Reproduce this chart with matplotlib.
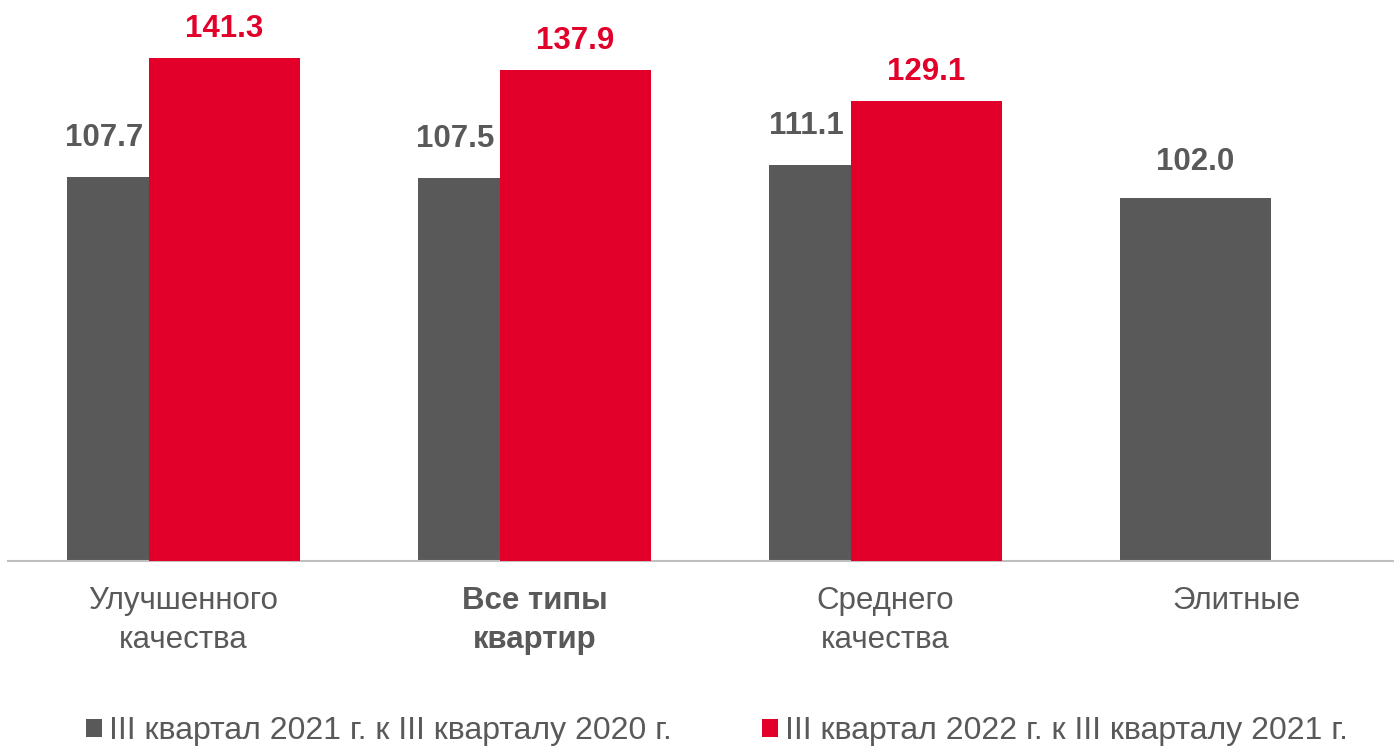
import numpy as np
import matplotlib
matplotlib.use('Agg')
import matplotlib.pyplot as plt
from matplotlib.patches import Patch

# Data
categories = ["Улучшенного\nкачества", "Все типы\nквартир", "Среднего\nкачества", "Элитные"]
values_2021 = [107.7, 107.5, 111.1, 102.0]
values_2022 = [141.3, 137.9, 129.1, None]
series_labels = ["III квартал 2021 г. к III кварталу 2020 г.",
                 "III квартал 2022 г. к III кварталу 2021 г."]

GRAY = "#595959"
RED = "#E2002A"

plt.rcParams['font.family'] = ['Liberation Sans', 'DejaVu Sans']

fig = plt.figure(figsize=(13.94, 7.46), dpi=100)
W, H = 1394, 746
# axes: left edge at 8px, baseline at 560.5px from top, top at figure top
ax = fig.add_axes([8 / W, (H - 560.5) / H, 1404 / W, 560.5 / H])

x = np.arange(len(categories))
width = 0.431
shift = 0.117

for i in range(len(categories)):
    g = values_2021[i]
    r = values_2022[i]
    ax.bar(x[i] - shift, g, width, color=GRAY, zorder=2)
    if r is not None:
        ax.bar(x[i] + shift, r, width, color=RED, zorder=3)
        # gray label centred on the visible part of the gray bar
        gx = ((x[i] - shift - width / 2) + (x[i] + shift - width / 2)) / 2 - 0.01
        ax.annotate(f"{g:.1f}", (gx, g), xytext=(0, 39), textcoords='offset pixels',
                    ha='center', va='center', fontsize=22.5, fontweight='bold', color=GRAY)
        ax.annotate(f"{r:.1f}", (x[i] + shift, r), xytext=(0, 29), textcoords='offset pixels',
                    ha='center', va='center', fontsize=22.5, fontweight='bold', color=RED)
    else:
        ax.annotate(f"{g:.1f}", (x[i] - shift, g), xytext=(0, 36), textcoords='offset pixels',
                    ha='center', va='center', fontsize=22.5, fontweight='bold', color=GRAY)

ax.set_xlim(-0.5, 3.5)
ax.set_ylim(0, 157.5)

for s in ['top', 'right', 'left']:
    ax.spines[s].set_visible(False)
ax.spines['bottom'].set_color('#BFBFBF')
ax.spines['bottom'].set_linewidth(1.5)
ax.set_yticks([])
ax.set_xticks(x)
ax.set_xticklabels(categories, fontsize=22.5, color=GRAY, linespacing=1.37)
ax.tick_params(axis='x', length=0, pad=18.5)
ax.get_xticklabels()[1].set_fontweight('bold')

handles = [Patch(facecolor=GRAY), Patch(facecolor=RED)]
fig.legend(handles, series_labels, loc='center', bbox_to_anchor=(717 / W, (H - 731) / H),
           ncol=2, frameon=False, fontsize=23, labelcolor=GRAY,
           handlelength=0.5, handleheight=0.5, handletextpad=0.2, columnspacing=2.85)

fig.savefig('out.png', dpi=100)
